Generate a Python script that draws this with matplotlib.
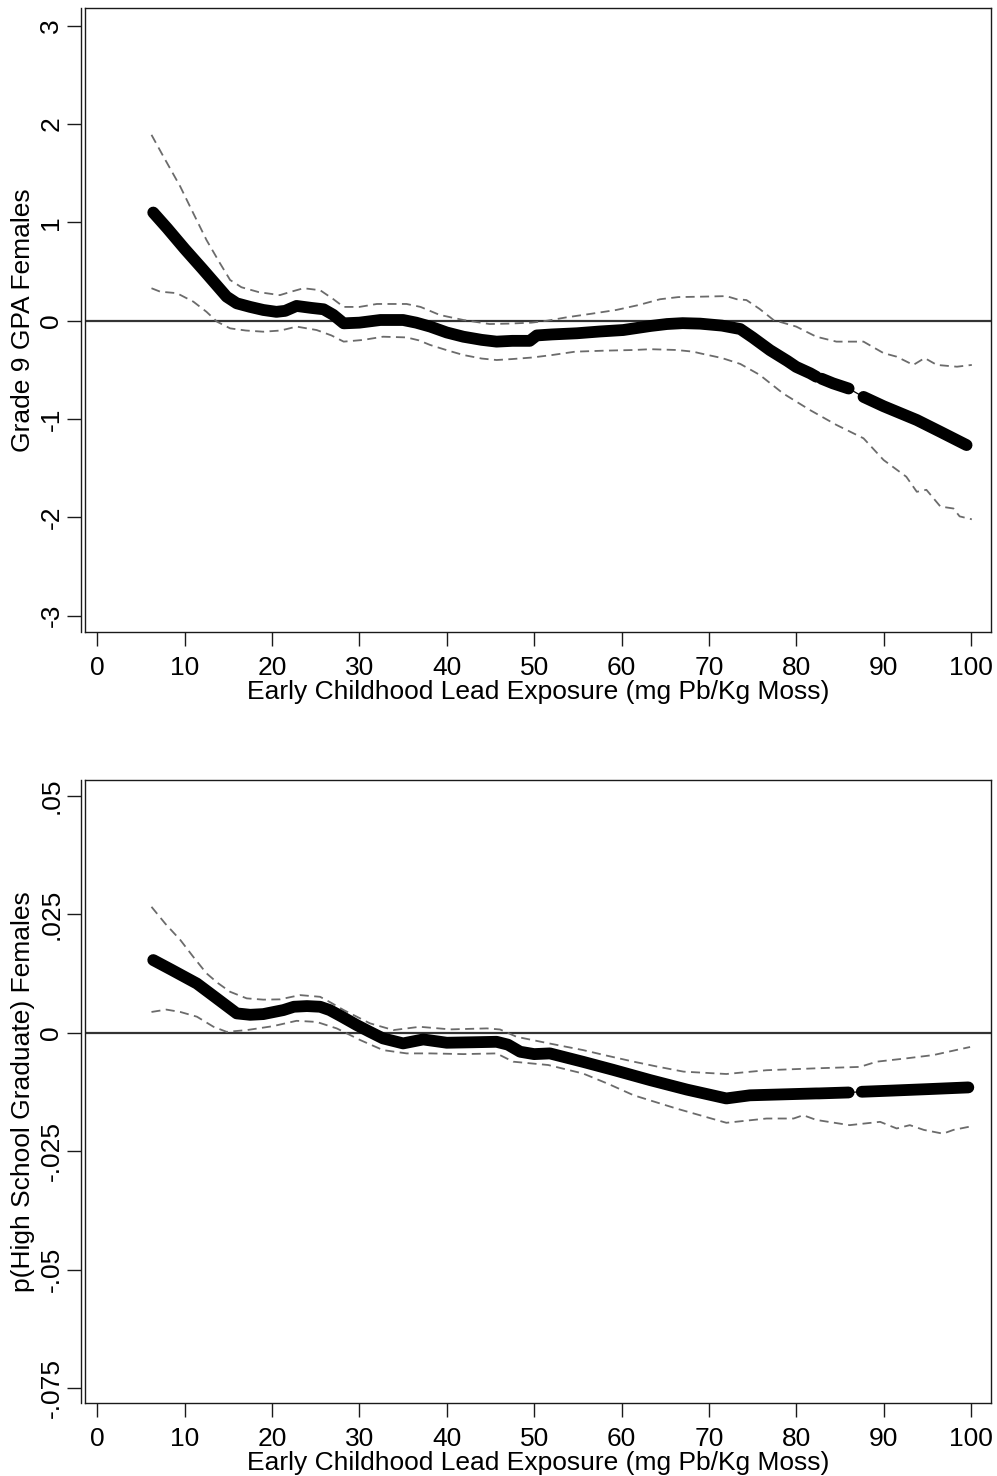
import matplotlib
matplotlib.use("Agg")
import matplotlib.pyplot as plt
import numpy as np

plt.rcParams["font.family"] = ["Liberation Sans", "DejaVu Sans"]

# Top panel: Grade 9 GPA, females
gpa_x = [6.4, 8.0, 10.0, 12.0, 14.8, 15.95, 17.5, 19.0, 20.5, 21.5, 22.8, 24.5, 25.9, 27.0,
         28.2, 30.0, 32.4, 35.0, 36.5, 38.1, 40.0, 41.9, 44.0, 45.7, 47.5, 49.5, 50.3, 52.0,
         54.9, 57.5, 60.2, 63.3, 65.2, 67.0, 69.0, 71.5, 73.6, 75.0, 77.0, 79.0, 80.0, 81.6,
         82.3, 82.9, 84.2, 86.0, 87.7, 90.0, 93.8, 96.5, 99.5]
gpa_y = [1.10, 0.94, 0.73, 0.53, 0.244, 0.177, 0.14, 0.109, 0.09, 0.10, 0.15, 0.13, 0.116, 0.06,
         -0.027, -0.02, 0.007, 0.007, -0.02, -0.06, -0.12, -0.163, -0.195, -0.213, -0.205, -0.205,
         -0.15, -0.14, -0.128, -0.11, -0.095, -0.054, -0.034, -0.025, -0.03, -0.05, -0.085, -0.17,
         -0.30, -0.41, -0.47, -0.535, -0.57, -0.59, -0.637, -0.69, -0.775, -0.87, -1.01, -1.13, -1.265]
gpa_gaps = [(82.3, 82.9), (86.0, 87.7)]

gpa_hi_x = [6.2, 7.5, 9.5, 11.0, 12.5, 14.0, 15.2, 16.5, 18.5, 20.9, 22.0, 23.6, 25.5, 27.0, 28.2,
            30.0, 32.0, 35.4, 37.0, 39.2, 41.9, 44.9, 47.0, 49.7, 51.5, 53.7, 56.5, 59.4, 62.0, 64.4,
            66.5, 69.0, 72.0, 73.2, 74.3, 75.8, 77.4, 80.0, 82.3, 84.6, 87.7, 90.0, 91.5, 93.4, 94.7,
            96.1, 98.4, 100.1]
gpa_hi_y = [1.89, 1.68, 1.363, 1.09, 0.82, 0.59, 0.414, 0.34, 0.29, 0.26, 0.29, 0.33, 0.31, 0.22,
            0.14, 0.14, 0.17, 0.17, 0.14, 0.058, 0.007, -0.034, -0.03, -0.02, 0.00, 0.034, 0.07, 0.109,
            0.16, 0.218, 0.24, 0.244, 0.25, 0.218, 0.21, 0.12, 0.007, -0.06, -0.163, -0.213, -0.213,
            -0.33, -0.366, -0.45, -0.38, -0.45, -0.468, -0.45]

gpa_lo_x = [6.2, 7.2, 9.1, 11.0, 12.5, 13.7, 15.2, 17.0, 19.0, 21.0, 22.8, 25.1, 26.8, 28.2, 30.4,
            32.7, 35.4, 36.8, 38.1, 40.0, 41.9, 44.0, 45.7, 47.5, 49.7, 52.0, 54.7, 58.0, 61.4, 63.3,
            66.3, 68.2, 69.0, 71.5, 73.6, 75.8, 78.5, 81.6, 84.6, 87.7, 90.0, 92.6, 93.8, 94.9, 96.5,
            98.0, 98.7, 100.1]
gpa_lo_y = [0.33, 0.295, 0.28, 0.193, 0.09, -0.01, -0.078, -0.10, -0.112, -0.10, -0.06, -0.095,
            -0.15, -0.213, -0.196, -0.163, -0.17, -0.20, -0.247, -0.30, -0.349, -0.385, -0.40, -0.39,
            -0.375, -0.35, -0.315, -0.305, -0.298, -0.29, -0.298, -0.315, -0.332, -0.38, -0.44, -0.55,
            -0.74, -0.91, -1.06, -1.196, -1.417, -1.587, -1.74, -1.72, -1.89, -1.91, -1.99, -2.02]

gpa_ticks = [-3, -2, -1, 0, 1, 2, 3]
gpa_ticklabels = ["-3", "-2", "-1", "0", "1", "2", "3"]

# Bottom panel: p(High School Graduate), females
hs_x = [6.4, 8.5, 11.4, 13.5, 15.95, 17.5, 19.0, 21.3, 22.5, 24.0, 25.5, 26.6, 28.0, 29.7, 31.2,
        32.7, 35.0, 37.3, 40.0, 43.0, 45.7, 47.0, 48.4, 50.0, 51.8, 55.6, 59.0, 63.3, 67.5, 72.0,
        74.7, 78.5, 82.3, 82.6, 86.0, 87.5, 91.0, 95.0, 99.7]
hs_y = [0.01536, 0.0133, 0.0104, 0.0075, 0.0041, 0.0038, 0.00395, 0.0048, 0.0055, 0.00564, 0.0055,
        0.0048, 0.0034, 0.00163, 0.0002, -0.00118, -0.00224, -0.0014, -0.0021, -0.0020, -0.0019,
        -0.0025, -0.004, -0.0045, -0.00435, -0.00613, -0.0078, -0.010, -0.012, -0.01386, -0.0132,
        -0.0130, -0.0128, -0.0128, -0.0126, -0.01245, -0.0122, -0.0119, -0.01153]
hs_gaps = [(86.0, 87.5)]

hs_hi_x = [6.2, 7.8, 9.5, 11.0, 12.5, 13.8, 15.2, 17.1, 19.0, 20.9, 23.2, 25.5, 26.8, 28.2, 31.2,
           33.9, 36.9, 40.4, 44.6, 46.1, 48.0, 51.6, 55.6, 58.5, 61.4, 64.0, 67.1, 72.0, 76.6, 82.3,
           87.3, 89.2, 92.6, 95.7, 98.4, 99.9]
hs_hi_y = [0.0266, 0.023, 0.0196, 0.016, 0.01255, 0.0105, 0.00866, 0.00727, 0.0070, 0.00706,
           0.00796, 0.0076, 0.0063, 0.0048, 0.0020, 0.00057, 0.00127, 0.00072, 0.00093, 0.0007,
           -0.00085, -0.0022, -0.00365, -0.0049, -0.0061, -0.0071, -0.0082, -0.0087, -0.0079,
           -0.0075, -0.0072, -0.0061, -0.0054, -0.0047, -0.0036, -0.003]

hs_lo_x = [6.2, 7.9, 9.5, 11.4, 13.3, 14.8, 17.1, 20.1, 22.8, 25.1, 27.4, 30.1, 32.7, 35.4, 38.1,
           41.9, 45.7, 47.6, 51.6, 55.6, 58.5, 61.4, 66.3, 72.0, 76.6, 79.7, 80.8, 82.3, 86.1, 89.6,
           91.5, 93.0, 94.6, 96.8, 98.0, 99.9]
hs_lo_y = [0.0044, 0.0049, 0.0044, 0.0034, 0.00127, 0.0002, 0.00057, 0.0014, 0.00253, 0.0023,
           0.00093, -0.00154, -0.00365, -0.00435, -0.00435, -0.0045, -0.00435, -0.0061, -0.0068,
           -0.0086, -0.0108, -0.0132, -0.016, -0.019, -0.0181, -0.0181, -0.0174, -0.0184, -0.0195,
           -0.0188, -0.0202, -0.0195, -0.0205, -0.0213, -0.0205, -0.0198]

hs_ticks = [-0.075, -0.05, -0.025, 0, 0.025, 0.05]
hs_ticklabels = ["-.075", "-.05", "-.025", "0", ".025", ".05"]

x_ticks = [0, 10, 20, 30, 40, 50, 60, 70, 80, 90, 100]
x_label = "Early Childhood Lead Exposure (mg Pb/Kg Moss)"

FRAME = "#1a1a1a"
CI_COLOR = "#6b6b6b"
FS = 19


def split_segments(x, y, gaps):
    """Break the fit line into pieces wherever a gap (thin-line stretch) sits between two points."""
    x = np.asarray(x, float)
    y = np.asarray(y, float)
    cuts = [0]
    for a, b in gaps:
        i = int(np.argmin(np.abs(x - a)))
        cuts.append(i + 1)
    cuts.append(len(x))
    return [(x[s:e], y[s:e]) for s, e in zip(cuts[:-1], cuts[1:])]


def draw_panel(ax, x, y, gaps, lo_x, lo_y, hi_x, hi_y, ylim, yticks, yticklabels, ylabel):
    """One local-regression panel: thick fit line, dashed CI band, zero reference."""
    # Stata draws the y axis line just outside the plot region border
    # (set before ticks: moving a spine resets the tick objects)
    ax.spines["left"].set_position(("outward", 3))
    ax.plot([0, 0], [0, 1], transform=ax.transAxes, color=FRAME, lw=1.0, clip_on=False)

    ax.axhline(0, color="#333333", lw=1.6, zorder=1)

    ax.plot(lo_x, lo_y, color=CI_COLOR, lw=1.3, ls=(0, (5, 3)), zorder=2)
    ax.plot(hi_x, hi_y, color=CI_COLOR, lw=1.3, ls=(0, (5, 3)), zorder=2)

    ax.plot(x, y, color="black", lw=0.9, zorder=3)  # thin connector through gaps
    for sx, sy in split_segments(x, y, gaps):
        ax.plot(sx, sy, color="black", lw=8.5, solid_capstyle="round",
                solid_joinstyle="round", zorder=4)

    ax.set_xlim(-1.41, 102.26)
    ax.set_ylim(*ylim)
    ax.set_xticks(x_ticks)
    ax.set_yticks(yticks)
    ax.set_yticklabels(yticklabels)

    for side in ["top", "right", "bottom", "left"]:
        ax.spines[side].set_color(FRAME)
        ax.spines[side].set_linewidth(1.0)

    ax.tick_params(direction="out", length=10, width=1.0, color=FRAME, labelsize=FS)
    ax.tick_params(axis="x", pad=7)
    ax.tick_params(axis="y", pad=2.5, labelrotation=90)
    for lab in ax.get_yticklabels():
        lab.set_verticalalignment("center")
    ax.set_xlabel(x_label, fontsize=FS, labelpad=0)
    ax.set_ylabel(ylabel, fontsize=FS, labelpad=3)


fig = plt.figure(figsize=(9.97, 14.76), dpi=100)
ax_top = fig.add_axes([85 / 997, 1 - 632 / 1476, (990.7 - 85) / 997, 624 / 1476])
ax_bot = fig.add_axes([85 / 997, 1 - 1403 / 1476, (990.7 - 85) / 997, 623 / 1476])

draw_panel(ax_top, gpa_x, gpa_y, gpa_gaps, gpa_lo_x, gpa_lo_y, gpa_hi_x, gpa_hi_y,
           (-3.166, 3.18), gpa_ticks, gpa_ticklabels, "Grade 9 GPA Females")
draw_panel(ax_bot, hs_x, hs_y, hs_gaps, hs_lo_x, hs_lo_y, hs_hi_x, hs_hi_y,
           (-0.07817, 0.05338), hs_ticks, hs_ticklabels, "p(High School Graduate) Females")

fig.savefig("out.png", dpi=100, facecolor="white")
